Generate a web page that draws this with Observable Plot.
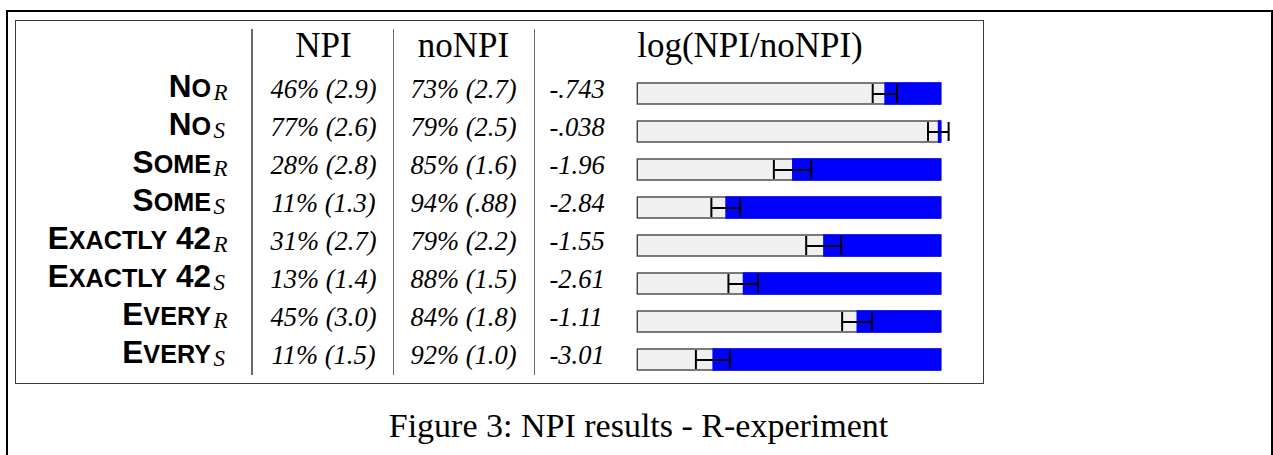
<!DOCTYPE html>
<html>
<head>
<meta charset="utf-8">
<script src="https://cdn.jsdelivr.net/npm/d3@7"></script>
<script src="https://cdn.jsdelivr.net/npm/@observablehq/plot@0.6"></script>
<style>
  html, body { margin: 0; padding: 0; background: #fff; }
  body { width: 1273px; height: 455px; overflow: hidden; position: relative; }
  #chart { position: absolute; left: 0; top: 0; }
  .deco { position: absolute; box-sizing: border-box; pointer-events: none; }
  #pagebox { left: 5.5px; top: 10px; width: 1267px; height: 460px; border: 2px solid #000; border-bottom: none; }
  #tablebox { left: 14.5px; top: 19.5px; width: 969px; height: 364.5px; border: 1.5px solid #3a3a3a; }
  .sep { top: 29px; height: 346px; width: 1.6px; background: #6a6a6a; }
  #caption { position: absolute; left: 0; width: 1277px; top: 409px; text-align: center;
             font-family: "Liberation Serif", serif; font-size: 34px; line-height: 34px; color: #000; }
</style>
</head>
<body>
<div id="chart"></div>
<div id="pagebox" class="deco"></div>
<div id="tablebox" class="deco"></div>
<div class="deco sep" style="left:251.2px"></div>
<div class="deco sep" style="left:392.5px"></div>
<div class="deco sep" style="left:533.5px"></div>
<div id="caption"></div>
<script>
// ---------------- data ----------------
const quantifiers = ["No", "No", "Some", "Some", "Exactly 42", "Exactly 42", "Every", "Every"];
const conditions  = ["R", "S", "R", "S", "R", "S", "R", "S"];
const npiPct      = [46, 77, 28, 11, 31, 13, 45, 11];
const npiSE       = ["2.9", "2.6", "2.8", "1.3", "2.7", "1.4", "3.0", "1.5"];
const noNpiPct    = [73, 79, 85, 94, 79, 88, 84, 92];
const noNpiSE     = ["2.7", "2.5", "1.6", ".88", "2.2", "1.5", "1.8", "1.0"];
const logRatio    = [-0.743, -0.038, -1.96, -2.84, -1.55, -2.61, -1.11, -3.01];
const logCI       = [0.16, 0.136, 0.246, 0.19, 0.23, 0.195, 0.196, 0.224];
const headers     = ["NPI", "noNPI", "log(NPI/noNPI)"];
const logDomain   = [-4, 0];
const captionText = "Figure 3: NPI results - R-experiment";

// ---------------- table rows ----------------
const fmtLog = v => String(v).replace(/^(-?)0\./, "$1.");
const rows = quantifiers.map((q, i) => ({
  id: q + "_" + conditions[i],
  q, cond: conditions[i],
  npi: `${npiPct[i]}% (${npiSE[i]})`,
  nonpi: `${noNpiPct[i]}% (${noNpiSE[i]})`,
  log: logRatio[i],
  logText: fmtLog(logRatio[i]),
  lo: logRatio[i] - logCI[i],
  hi: logRatio[i] + logCI[i]
}));

// layout (offsets relative to the bar column's left edge)
const W = 1273, H = 395;
const mL = 637.3, mR = W - 940.7, mT = 80.7, mB = H - 371.8;
const serif = "Liberation Serif, serif";
const sans = "Liberation Sans, Arial, sans-serif";
const rowText = {y: "id", frameAnchor: "left", lineAnchor: "bottom", dy: 4.2,
                 fontFamily: serif, fontStyle: "italic", fontSize: 26.5, fill: "#000"};
const headText = {frameAnchor: "top-left", lineAnchor: "bottom", dy: -24.5,
                  fontFamily: serif, fontSize: 35, fill: "#000"};

const chart = Plot.plot({
  width: W, height: H,
  marginLeft: mL, marginRight: mR, marginTop: mT, marginBottom: mB,
  style: {background: "transparent", overflow: "visible"},
  x: {domain: logDomain, axis: null},
  y: {domain: rows.map(d => d.id), axis: null, paddingInner: 0.44, paddingOuter: 0},
  marks: [
    // header row
    Plot.text([headers[0]], {...headText, text: d => d, dx: -314.3, textAnchor: "middle"}),
    Plot.text([headers[1]], {...headText, text: d => d, dx: -174.3, textAnchor: "middle"}),
    Plot.text([headers[2]], {...headText, text: d => d, dx: -0.6, textAnchor: "start"}),
    // row labels (bold small caps) + subscripts
    Plot.text(rows, {y: "id", text: "q", frameAnchor: "left", lineAnchor: "bottom", dy: 3.2,
                     dx: -426.8, textAnchor: "end", fontFamily: sans, fontWeight: "bold",
                     fontSize: 31.5, fill: "#000"}),
    Plot.text(rows, {y: "id", text: "cond", frameAnchor: "left", lineAnchor: "bottom", dy: 6,
                     dx: -424.3, textAnchor: "start", fontFamily: serif, fontStyle: "italic",
                     fontSize: 23, fill: "#000"}),
    // numeric columns
    Plot.text(rows, {...rowText, text: "npi", dx: -314.3, textAnchor: "middle"}),
    Plot.text(rows, {...rowText, text: "nonpi", dx: -174.3, textAnchor: "middle"}),
    Plot.text(rows, {...rowText, text: "logText", dx: -88.3, textAnchor: "start"}),
    // bars
    Plot.barX(rows, {y: "id", x1: () => logDomain[0], x2: () => logDomain[1],
                     fill: "#f0f0f0", stroke: "#444", strokeWidth: 1.4}),
    Plot.barX(rows, {y: "id", x1: "log", x2: () => logDomain[1], fill: "#0000ff",
                     insetTop: -0.7, insetBottom: -0.7, insetRight: -0.7}),
    // error bars
    Plot.ruleY(rows, {y: "id", x1: "lo", x2: "hi", stroke: "#000", strokeWidth: 2}),
    Plot.tickX(rows, {y: "id", x: "lo", stroke: "#000", strokeWidth: 2, insetTop: 1, insetBottom: 1}),
    Plot.tickX(rows, {y: "id", x: "hi", stroke: "#000", strokeWidth: 2, insetTop: 1, insetBottom: 1})
  ]
});
document.getElementById("chart").appendChild(chart);

// bold small caps for the quantifier labels
const qset = new Set(quantifiers);
d3.select(chart).selectAll("text").each(function () {
  const s = this.textContent;
  if (!qset.has(s)) return;
  const runs = [];
  for (const ch of s) {
    const small = ch !== ch.toUpperCase();
    const last = runs[runs.length - 1];
    if (last && last.small === small) last.t += ch.toUpperCase();
    else runs.push({small, t: ch.toUpperCase()});
  }
  const el = d3.select(this);
  el.text(null);
  runs.forEach(r => {
    const ts = el.append("tspan").text(r.t);
    if (r.small) ts.attr("font-size", 25.2);
  });
});

document.getElementById("caption").textContent = captionText;
</script>
</body>
</html>
